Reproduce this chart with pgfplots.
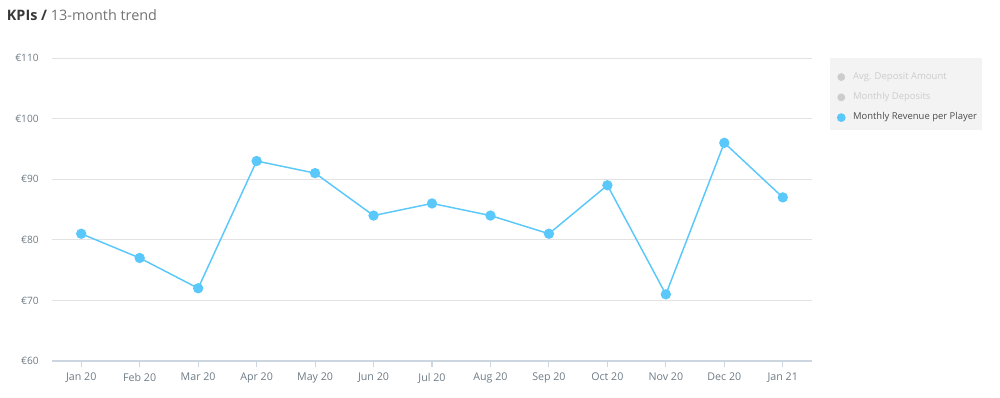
\documentclass[border=0pt]{standalone}
\usepackage{pgfplots}
\pgfplotsset{compat=1.18}
\usepackage{fontspec}
\setmainfont{Open Sans}
\definecolor{line}{HTML}{5AC8FA}
\definecolor{gridc}{HTML}{E3E3E3}
\definecolor{axc}{HTML}{CCD6E0}
\definecolor{tickc}{HTML}{6E7B85}
\definecolor{legbg}{HTML}{F3F3F3}
\definecolor{inact}{HTML}{CCCCCC}
\begin{document}
\begin{tikzpicture}
\useasboundingbox (-39pt,-27pt) rectangle (711pt,270.75pt);
\begin{axis}[
  at={(0,0)}, anchor=south west,
  scale only axis, width=570pt, height=227.25pt,
  xmin=-0.5, xmax=12.5, ymin=60, ymax=110,
  xtick={0,...,12},
  xticklabels={Jan 20,Feb 20,Mar 20,Apr 20,May 20,Jun 20,Jul 20,Aug 20,Sep 20,Oct 20,Nov 20,Dec 20,Jan 21},
  ytick={60,70,80,90,100,110},
  yticklabels={€60,€70,€80,€90,€100,€110},
  axis x line*=bottom, axis y line*=left,
  x axis line style={draw=axc, line width=0.8pt, -},
  y axis line style={draw=none},
  xtick style={draw=axc, line width=0.8pt},
  ytick style={draw=none},
  tick align=outside, major tick length=4.5pt,
  ymajorgrids, grid style={draw=gridc, line width=0.6pt},
  ticklabel style={text=tickc},
  xticklabel style={font=\fontsize{8}{9}\selectfont, yshift=-1pt},
  yticklabel style={font=\fontsize{7.6}{9}\selectfont, xshift=-2pt},
  legend style={at={(1.0237,1)}, anchor=north west, fill=none, draw=none,
    font=\fontsize{7.1}{8.5}\selectfont, inner xsep=5pt, inner ysep=6.5pt,
    row sep=0pt, nodes={text height=5.2pt, text depth=1.8pt, inner ysep=4.1pt}},
  legend cell align=left,
  legend image code/.code={\fill[#1] (0.12cm,0cm) circle (2.7pt); \path (0.34cm,0cm);},
  clip=false,
]
\fill[legbg] (rel axis cs:1.0237,1) rectangle (rel axis cs:1.2237,0.7624);
\addlegendimage{inact}
\addlegendentry{\textcolor{inact}{Avg. Deposit Amount}}
\addlegendimage{inact}
\addlegendentry{\textcolor{inact}{Monthly Deposits}}
\addplot[line, line width=1.1pt, mark=*, mark size=3.3pt, mark options={fill=line, draw=line}]
  coordinates {(0,81) (1,77) (2,72) (3,93) (4,91) (5,84) (6,86) (7,84) (8,81) (9,89) (10,71) (11,96) (12,87)};
\addlegendentry{\textcolor{black!70}{Monthly Revenue per Player}}
\node[anchor=base west, inner sep=0pt, font=\fontsize{10.8}{13}\selectfont] at (-34pt,255.5pt)
  {\textcolor{black!78}{\bfseries KPIs /} \textcolor{black!55}{13-month trend}};
\end{axis}
\end{tikzpicture}
\end{document}
